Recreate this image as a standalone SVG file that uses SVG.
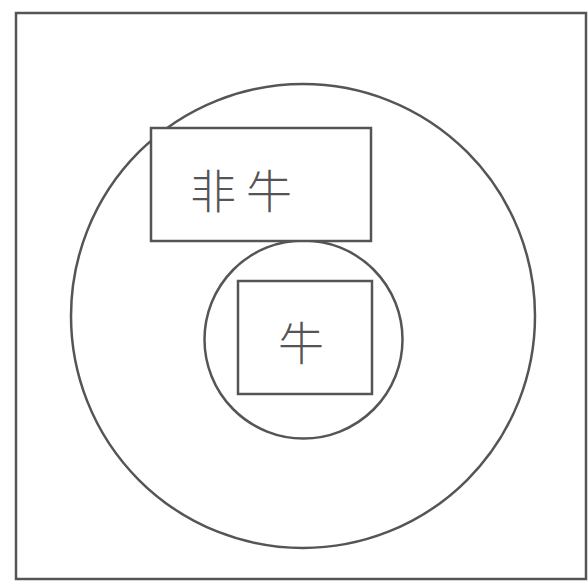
<svg xmlns="http://www.w3.org/2000/svg" width="588" height="581" viewBox="0 0 588 581">
<style>
.ln{fill:none;stroke:#555;stroke-width:2.5}
.bx{fill:#fff;stroke:#555;stroke-width:2.5}
.t{font-family:"Noto Sans CJK SC","Noto Sans CJK JP",sans-serif;font-weight:300;font-size:46px;fill:#555;text-anchor:middle;dominant-baseline:central}
</style>
<rect width="588" height="581" fill="#fff"/>
<g id="universe"><rect class="ln" x="16" y="13" width="570" height="566"/></g>
<g id="outer-circle"><circle class="ln" cx="303" cy="316" r="232"/></g>
<g id="inner-circle"><circle class="ln" cx="303.5" cy="339.5" r="99"/></g>
<g id="non-cow"><rect class="bx" x="151" y="128" width="220" height="113"/><text class="t" x="246" y="188" letter-spacing="10">非牛</text></g>
<g id="cow"><rect class="bx" x="238" y="281" width="134" height="113"/><text class="t" x="301" y="340">牛</text></g>
<g id="connectors"/>
</svg>
